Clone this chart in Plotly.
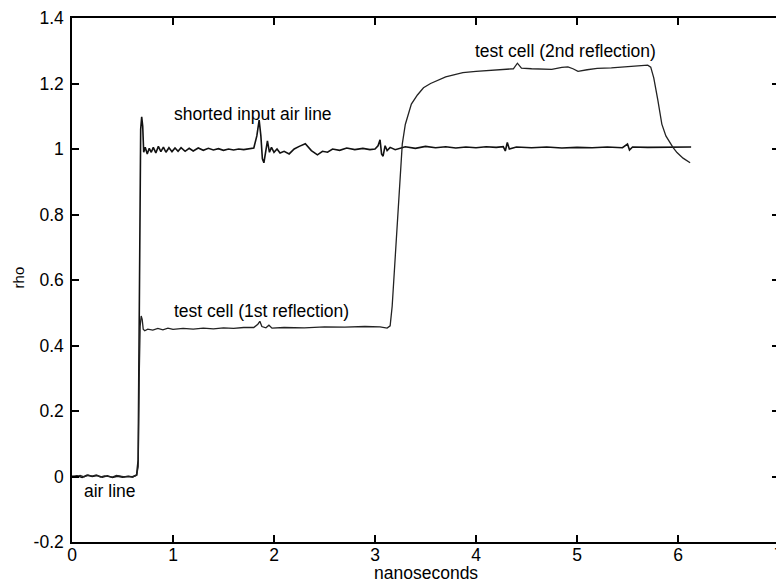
import plotly.graph_objects as go

# shorted input air line
shorted_x = [0.00, 0.05, 0.10, 0.15, 0.20, 0.25, 0.30, 0.35, 0.40, 0.45, 0.50, 0.55, 0.60, 0.64,
             0.655, 0.665, 0.672, 0.680, 0.690, 0.700, 0.710, 0.725, 0.745, 0.765, 0.785, 0.805,
             0.83, 0.855, 0.88, 0.905, 0.93, 0.96, 0.99, 1.02, 1.05, 1.08, 1.12, 1.16, 1.20, 1.25,
             1.30, 1.35, 1.40, 1.45, 1.50, 1.55, 1.60, 1.65, 1.70, 1.76, 1.80, 1.83, 1.853, 1.87,
             1.885, 1.90, 1.915, 1.935, 1.955, 1.975, 2.00, 2.03, 2.06, 2.10, 2.15, 2.20, 2.25,
             2.31, 2.37, 2.43, 2.48, 2.53, 2.58, 2.65, 2.72, 2.80, 2.88, 2.95, 3.00, 3.03, 3.05,
             3.065, 3.08, 3.10, 3.12, 3.15, 3.20, 3.30, 3.40, 3.50, 3.60, 3.70, 3.80, 3.90, 4.00,
             4.10, 4.20, 4.27, 4.29, 4.31, 4.33, 4.40, 4.55, 4.70, 4.85, 5.00, 5.15, 5.30, 5.45,
             5.50, 5.52, 5.55, 5.70, 5.85, 6.00, 6.13]
shorted_y = [0.000, 0.002, -0.003, 0.004, 0.000, 0.003, -0.002, 0.002, -0.003, 0.001, -0.002, 0.000, -0.001, 0.005,
             0.05, 0.45, 0.95, 1.06, 1.098, 1.07, 0.99, 1.005, 0.985, 1.002, 0.990, 1.005,
             0.988, 1.008, 0.992, 1.006, 0.990, 1.004, 0.992, 1.003, 0.993, 1.004, 0.993, 1.002, 0.994, 1.003,
             0.996, 1.002, 0.997, 1.001, 0.996, 1.000, 0.997, 1.000, 0.998, 1.000, 1.003, 1.04, 1.088, 1.04,
             0.97, 0.958, 0.99, 1.025, 0.99, 1.005, 0.99, 1.0, 0.988, 0.993, 0.985, 1.0, 1.008,
             1.016, 0.995, 0.982, 0.993, 0.99, 1.0, 0.996, 1.003, 0.998, 1.002, 0.998, 1.0, 1.01, 1.028,
             0.985, 0.978, 1.01, 0.995, 1.005, 0.998, 1.007, 1.002, 1.008, 1.004, 1.007, 1.003, 1.006, 1.004,
             1.007, 1.005, 1.007, 0.994, 1.02, 1.0, 1.006, 1.004, 1.006, 1.003, 1.005, 1.004, 1.006, 1.004,
             1.015, 0.997, 1.006, 1.005, 1.006, 1.005, 1.006]

# test cell (1st and 2nd reflection)
cell_x = [0.00, 0.04, 0.08, 0.12, 0.16, 0.20, 0.24, 0.28, 0.32, 0.36, 0.40, 0.44, 0.48, 0.52, 0.56, 0.60, 0.64,
          0.655, 0.665, 0.675, 0.685, 0.695, 0.705, 0.72, 0.75, 0.80, 0.85, 0.90, 0.95, 1.00, 1.10, 1.20,
          1.30, 1.40, 1.50, 1.60, 1.70, 1.80, 1.84, 1.86, 1.88, 1.92, 1.95, 1.98, 2.10, 2.30, 2.50, 2.70,
          2.90, 3.05, 3.12, 3.15, 3.17, 3.19, 3.21, 3.23, 3.25, 3.27, 3.30, 3.33, 3.36, 3.42, 3.48, 3.55,
          3.61, 3.70, 3.80, 3.87, 4.00, 4.10, 4.20, 4.30, 4.37, 4.41, 4.45, 4.55, 4.65, 4.75, 4.85, 4.91,
          4.96, 5.01, 5.10, 5.20, 5.34, 5.45, 5.55, 5.63, 5.70, 5.73, 5.76, 5.80, 5.84, 5.88, 5.91, 5.95,
          5.99, 6.05, 6.12]
cell_y = [0.001, -0.002, 0.003, -0.001, 0.004, 0.001, 0.005, -0.002, 0.002, 0.000, -0.002, 0.003, 0.000, -0.001, 0.001, -0.002, 0.004,
          0.03, 0.30, 0.46, 0.49, 0.48, 0.45, 0.445, 0.45, 0.447, 0.452, 0.448, 0.453, 0.449, 0.452, 0.450,
          0.453, 0.451, 0.454, 0.452, 0.455, 0.455, 0.465, 0.474, 0.458, 0.454, 0.462, 0.453, 0.455, 0.454, 0.457, 0.456,
          0.458, 0.457, 0.453, 0.46, 0.52, 0.62, 0.72, 0.84, 0.94, 1.015, 1.075, 1.11, 1.137, 1.165, 1.187, 1.200,
          1.209, 1.220, 1.228, 1.233, 1.237, 1.239, 1.241, 1.242, 1.245, 1.262, 1.247, 1.245, 1.244, 1.243, 1.249, 1.251,
          1.245, 1.237, 1.242, 1.246, 1.248, 1.250, 1.253, 1.255, 1.256, 1.250, 1.217, 1.150, 1.076, 1.04, 1.024, 1.005,
          0.989, 0.972, 0.958]

x_ticks = [0, 1, 2, 3, 4, 5, 6, 7]
y_ticks = [-0.2, 0, 0.2, 0.4, 0.6, 0.8, 1, 1.2, 1.4]
y_tick_labels = ["-0.2", "0", "0.2", "0.4", "0.6", "0.8", "1", "1.2", "1.4"]

labels = ["shorted input air line", "test cell (1st reflection)", "test cell (2nd reflection)", "air line"]
label_x = [0.99, 0.99, 3.97, 0.095]
label_y = [1.107, 0.506, 1.30, -0.043]

FONT = "Liberation Sans, Arial, Helvetica"
INK = "#000000"

fig = go.Figure()
fig.add_trace(go.Scatter(x=shorted_x, y=shorted_y, mode="lines",
                         line=dict(color="#111111", width=1.6), showlegend=False))
fig.add_trace(go.Scatter(x=cell_x, y=cell_y, mode="lines",
                         line=dict(color="#222222", width=1.3), showlegend=False))

for t, lx, ly in zip(labels, label_x, label_y):
    fig.add_annotation(x=lx, y=ly, text=t, showarrow=False, xanchor="left", yanchor="middle",
                       font=dict(family=FONT, size=17.5, color=INK))

fig.add_annotation(x=0.501, y=0, xref="paper", yref="paper", text="nanoseconds",
                   showarrow=False, xanchor="center", yanchor="middle", yshift=-31,
                   font=dict(family=FONT, size=17.5, color=INK))
fig.add_annotation(x=0, y=0.505, xref="paper", yref="paper", text="rho", textangle=-90,
                   showarrow=False, xanchor="center", yanchor="middle", xshift=-54,
                   font=dict(family=FONT, size=15, color=INK))

axis_common = dict(showline=True, linecolor=INK, linewidth=1.5, mirror="ticks",
                   ticks="inside", ticklen=7, tickwidth=1.5, tickcolor=INK,
                   showgrid=False, zeroline=False, ticklabeloverflow="allow",
                   tickfont=dict(family=FONT, size=17.5, color=INK))

fig.update_xaxes(range=[0, 7.0], tickvals=x_ticks, ticktext=[str(v) for v in x_ticks],
                 ticklabelstandoff=-4, **axis_common)
fig.update_yaxes(range=[-0.2, 1.4], tickvals=y_ticks, ticktext=y_tick_labels,
                 ticklabelstandoff=3, **axis_common)

# page body adds an 8px offset, so the figure is shrunk by 8px and margins adjusted
fig.update_layout(width=776, height=578, margin=dict(l=64, r=0, t=9, b=44),
                  paper_bgcolor="white", plot_bgcolor="white")

fig.write_html("out.html")
